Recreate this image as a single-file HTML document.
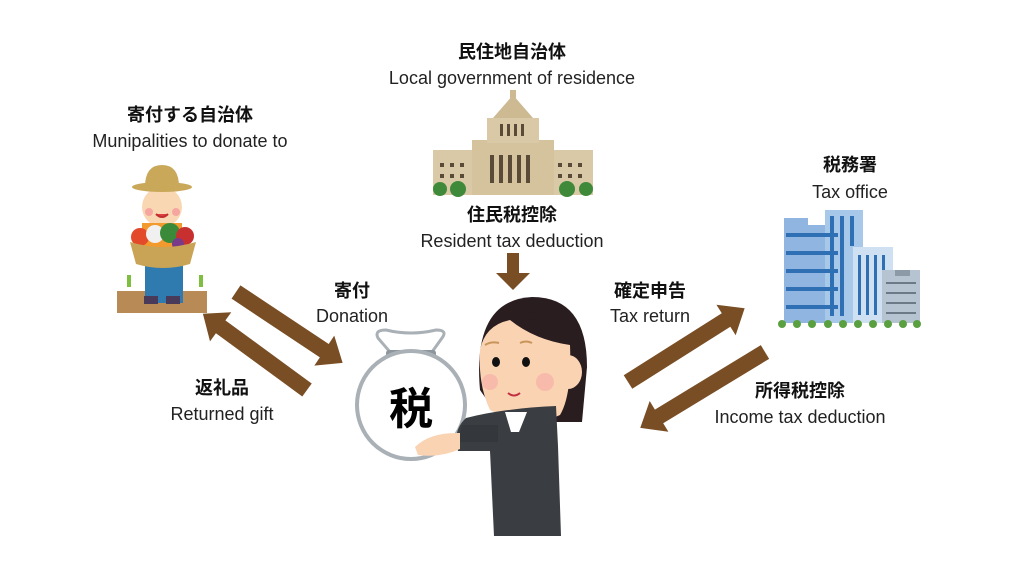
<!DOCTYPE html>
<html><head><meta charset="utf-8"><style>
body{margin:0;background:#fff;}
svg{display:block}
text{font-family:"Liberation Sans","Noto Sans CJK JP",sans-serif;fill:#111;text-anchor:middle}
.j{font-weight:bold;font-size:18px}
.e{font-size:18px;fill:#222}
</style></head><body>
<svg width="1024" height="576" viewBox="0 0 1024 576" xmlns="http://www.w3.org/2000/svg">
<text class="j" x="512" y="58">民住地自治体</text>
<text class="e" x="512" y="84">Local government of residence</text>
<text class="j" x="190" y="121">寄付する自治体</text>
<text class="e" x="190" y="147">Munipalities to donate to</text>
<text class="j" x="850" y="171">税務署</text>
<text class="e" x="850" y="198">Tax office</text>
<text class="j" x="512" y="221">住民税控除</text>
<text class="e" x="512" y="247">Resident tax deduction</text>
<text class="j" x="352" y="297">寄付</text>
<text class="e" x="352" y="322">Donation</text>
<text class="j" x="650" y="297">確定申告</text>
<text class="e" x="650" y="322">Tax return</text>
<text class="j" x="222" y="394">返礼品</text>
<text class="e" x="222" y="420">Returned gift</text>
<text class="j" x="800" y="397">所得税控除</text>
<text class="e" x="800" y="423">Income tax deduction</text>

<g fill="#7a4e24">
<g transform="translate(236,292) rotate(33.6)"><polygon points="0,-8 106,-8 106,-18 128,0 106,18 106,8 0,8"/></g>
<g transform="translate(307,390) rotate(216.2)"><polygon points="0,-8 107,-8 107,-18 129,0 107,18 107,8 0,8"/></g>
<g transform="translate(628,382) rotate(-32.3)"><polygon points="0,-8 116,-8 116,-18 138,0 116,18 116,8 0,8"/></g>
<g transform="translate(765,352) rotate(148.7)"><polygon points="0,-8 124,-8 124,-18 146,0 124,18 124,8 0,8"/></g>
<polygon points="507,253 519,253 519,273 530,273 513,290 496,273 507,273"/>
</g>

<g>
<rect x="433" y="150" width="160" height="45" fill="#d9c9a6"/>
<rect x="472" y="140" width="82" height="55" fill="#d5c39d"/>
<rect x="487" y="118" width="52" height="25" fill="#d9c9a6"/>
<polygon points="493,118 513,95 533,118" fill="#cdb992"/>
<rect x="510" y="90" width="6" height="8" fill="#cdb992"/>
<g fill="#5a4a38">
<rect x="500" y="124" width="3" height="12"/><rect x="507" y="124" width="3" height="12"/><rect x="514" y="124" width="3" height="12"/><rect x="521" y="124" width="3" height="12"/>
<rect x="490" y="155" width="4" height="28"/><rect x="499" y="155" width="4" height="28"/><rect x="508" y="155" width="4" height="28"/><rect x="517" y="155" width="4" height="28"/><rect x="526" y="155" width="4" height="28"/>
<rect x="440" y="163" width="4" height="4"/><rect x="450" y="163" width="4" height="4"/><rect x="460" y="163" width="4" height="4"/>
<rect x="440" y="174" width="4" height="4"/><rect x="450" y="174" width="4" height="4"/><rect x="460" y="174" width="4" height="4"/>
<rect x="558" y="163" width="4" height="4"/><rect x="568" y="163" width="4" height="4"/><rect x="578" y="163" width="4" height="4"/>
<rect x="558" y="174" width="4" height="4"/><rect x="568" y="174" width="4" height="4"/><rect x="578" y="174" width="4" height="4"/>
</g>
<g fill="#3f8a3a">
<circle cx="440" cy="189" r="7"/><circle cx="458" cy="189" r="8"/><circle cx="567" cy="189" r="8"/><circle cx="586" cy="189" r="7"/>
</g>
</g>

<g>
<rect x="784" y="225" width="58" height="98" fill="#8fb5e0"/>
<rect x="784" y="218" width="24" height="8" fill="#8fb5e0"/>
<rect x="825" y="210" width="38" height="113" fill="#a8c8ea"/>
<rect x="853" y="247" width="40" height="76" fill="#cfe0f2"/>
<rect x="882" y="270" width="38" height="53" fill="#b6c3d0"/>
<rect x="895" y="270" width="15" height="6" fill="#8c99a6"/>
<g fill="#2f6fb3">
<rect x="786" y="233" width="52" height="4"/><rect x="786" y="251" width="52" height="4"/><rect x="786" y="269" width="52" height="4"/><rect x="786" y="287" width="52" height="4"/><rect x="786" y="305" width="52" height="4"/>
<rect x="830" y="216" width="4" height="100"/><rect x="840" y="216" width="4" height="100"/><rect x="850" y="216" width="4" height="30"/>
<rect x="858" y="255" width="3" height="60"/><rect x="866" y="255" width="3" height="60"/><rect x="874" y="255" width="3" height="60"/><rect x="882" y="255" width="3" height="15"/>
</g>
<g fill="#6c7a88"><rect x="886" y="282" width="30" height="2"/><rect x="886" y="292" width="30" height="2"/><rect x="886" y="302" width="30" height="2"/><rect x="886" y="312" width="30" height="2"/></g>
<g fill="#5aa040">
<circle cx="782" cy="324" r="4"/><circle cx="797" cy="324" r="4"/><circle cx="812" cy="324" r="4"/><circle cx="828" cy="324" r="4"/><circle cx="843" cy="324" r="4"/><circle cx="858" cy="324" r="4"/><circle cx="873" cy="324" r="4"/><circle cx="888" cy="324" r="4"/><circle cx="903" cy="324" r="4"/><circle cx="917" cy="324" r="4"/>
</g>
</g>

<g>
<rect x="117" y="291" width="90" height="22" fill="#b88a55"/>
<rect x="145" y="258" width="38" height="45" fill="#2f7bb0"/>
<rect x="144" y="296" width="14" height="8" fill="#4a3a5a"/><rect x="166" y="296" width="14" height="8" fill="#4a3a5a"/>
<circle cx="162" cy="207" r="20" fill="#fad7b3"/>
<circle cx="149" cy="212" r="4" fill="#f6a6a0"/><circle cx="176" cy="212" r="4" fill="#f6a6a0"/>
<path d="M156 214 q6 6 12 0" stroke="#c03030" stroke-width="2" fill="#e04040"/>
<ellipse cx="162" cy="187" rx="30" ry="5" fill="#c9a85a"/>
<path d="M145 187 q0 -22 17 -22 q17 0 17 22z" fill="#c9a85a"/>
<rect x="142" y="223" width="40" height="35" fill="#f29a2e"/>
<circle cx="140" cy="237" r="9" fill="#e24a2a"/><circle cx="155" cy="234" r="9" fill="#f0f0f0"/><circle cx="170" cy="233" r="10" fill="#3a8a3a"/><circle cx="185" cy="236" r="9" fill="#c83030"/><circle cx="178" cy="244" r="6" fill="#7a3a8a"/>
<path d="M130 242 q33 10 66 0 l-6 22 q-27 8 -54 0z" fill="#caa456"/>
<g fill="#7fbf3f"><rect x="127" y="275" width="4" height="12"/><rect x="199" y="275" width="4" height="12"/></g>
</g>

<!-- bag -->
<g>
<path d="M378 338 q-4 -8 8 -8 q25 6 50 0 q12 0 6 8 l-10 14 h-42z" fill="#fff" stroke="#a9b0b6" stroke-width="3"/>
<rect x="386" y="350" width="50" height="8" rx="3" fill="#8e969d"/>
<circle cx="411" cy="405" r="54" fill="#fff" stroke="#a9b0b6" stroke-width="4"/>
<text x="411" y="424" style="font-size:44px;font-weight:bold;fill:#000">税</text>
</g>

<!-- woman -->
<g>
<path d="M480 390 q-8 -90 52 -93 q55 0 55 70 l-5 55 h-80z" fill="#2a1d1f"/>
<path d="M490 410 q-12 -25 -10 -60 q5 -25 30 -30 q25 20 60 25 q2 50 -10 70 q-30 15 -70 -5z" fill="#fad3b3"/>
<ellipse cx="568" cy="372" rx="14" ry="17" fill="#fad3b3"/>
<path d="M514 318 q40 0 58 30 l0 -20 q-20 -25 -58 -10z" fill="#2a1d1f"/>
<path d="M485 345 q6 -4 14 -2" stroke="#c8965a" stroke-width="2" fill="none"/><path d="M520 343 q6 -3 12 0" stroke="#c8965a" stroke-width="2" fill="none"/>
<ellipse cx="496" cy="362" rx="4" ry="5" fill="#111"/><ellipse cx="526" cy="362" rx="4" ry="5" fill="#111"/>
<circle cx="490" cy="382" r="8" fill="#f6b0a8" opacity=".7"/><circle cx="545" cy="382" r="9" fill="#f6b0a8" opacity=".7"/>
<path d="M508 393 q6 5 12 0" stroke="#c03040" stroke-width="2" fill="none"/>
<path d="M466 418 q40 -10 90 -12 l2 40 l3 90 h-67 l-4 -85 h-32 q-6 -20 8 -33z" fill="#3a3d42"/>
<path d="M505 412 h22 l-8 20 h-8z" fill="#fff"/>
<path d="M462 425 h36 v17 h-40z" fill="#34373c"/>
<path d="M415 447 q15 -15 45 -14 l0 16 q-20 9 -42 6z" fill="#fad3b3"/>
</g>
</svg>
</body></html>
